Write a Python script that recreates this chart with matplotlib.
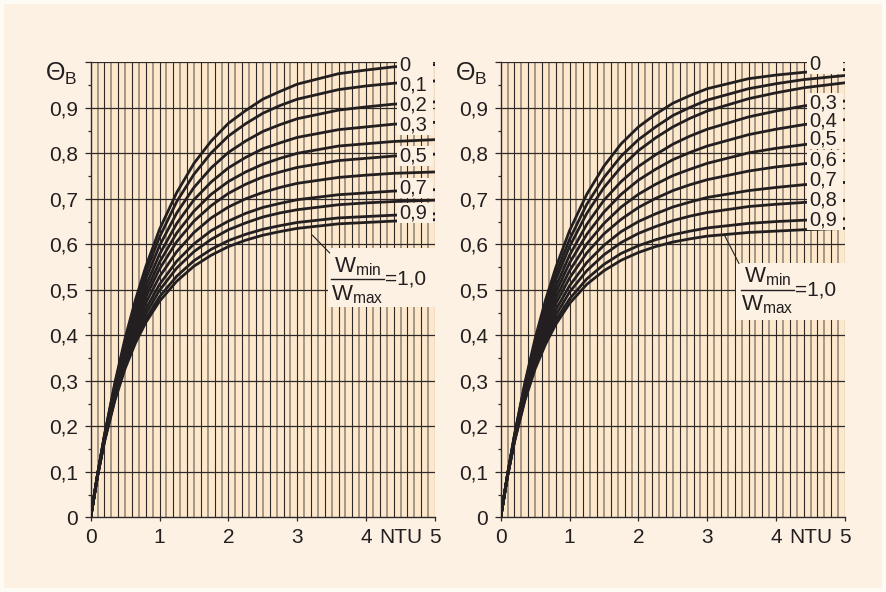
import matplotlib
matplotlib.use("Agg")  # render bez okna
import matplotlib.pyplot as plt
from matplotlib.patches import Rectangle

plt.rcParams["font.family"] = ["Liberation Sans", "DejaVu Sans"]
plt.rcParams["mathtext.fontset"] = "custom"
plt.rcParams["mathtext.rm"] = "Liberation Sans"
plt.rcParams["mathtext.it"] = "Liberation Sans:italic"
plt.rcParams["mathtext.bf"] = "Liberation Sans:bold"

# --- values ---
ntu = [0, 0.1, 0.2, 0.35, 0.5, 0.65, 0.8, 1.0, 1.25, 1.5, 1.75,
       2.0, 2.25, 2.5, 2.75, 3.0, 3.6, 4.0, 4.4, 5.0]

# one row per Wmin/Wmax = 0, 0.1, ... 1.0
theta_left = [
    [0, .095, .181, .295, .394, .478, .551, .633, .714, .778, .827, .866, .894, .919, .936, .952, .975, .983, .990, .995],
    [0, .095, .180, .291, .387, .468, .538, .616, .694, .754, .801, .838, .865, .888, .905, .919, .940, .948, .954, .959],
    [0, .094, .178, .287, .379, .457, .524, .597, .669, .725, .768, .802, .827, .848, .863, .876, .895, .902, .908, .913],
    [0, .094, .177, .283, .372, .446, .509, .578, .646, .698, .737, .768, .791, .810, .823, .835, .852, .858, .864, .868],
    [0, .093, .175, .279, .365, .436, .496, .561, .625, .673, .710, .738, .759, .776, .789, .800, .816, .821, .826, .830],
    [0, .093, .173, .275, .358, .427, .484, .546, .606, .651, .685, .712, .732, .748, .759, .769, .784, .789, .794, .798],
    [0, .093, .172, .271, .351, .417, .471, .529, .584, .626, .658, .682, .700, .714, .725, .734, .747, .752, .756, .759],
    [0, .092, .170, .267, .344, .407, .458, .512, .563, .601, .630, .651, .668, .681, .690, .698, .709, .713, .717, .720],
    [0, .092, .169, .263, .338, .399, .447, .499, .548, .584, .611, .632, .647, .660, .669, .676, .687, .691, .694, .697],
    [0, .091, .167, .260, .332, .390, .436, .485, .530, .564, .589, .608, .622, .633, .641, .648, .658, .661, .664, .667],
    [0, .091, .166, .256, .327, .383, .428, .475, .519, .552, .576, .595, .609, .620, .628, .635, .645, .648, .651, .654],
]

theta_right = [
    [0, .095, .181, .295, .393, .477, .549, .630, .710, .772, .821, .858, .886, .910, .927, .942, .964, .972, .978, .984],
    [0, .095, .180, .291, .385, .466, .535, .611, .688, .747, .794, .830, .858, .883, .901, .917, .942, .953, .962, .971],
    [0, .094, .178, .287, .379, .456, .522, .595, .668, .725, .770, .806, .834, .858, .877, .893, .920, .933, .944, .955],
    [0, .094, .176, .282, .371, .445, .507, .576, .644, .697, .738, .771, .797, .820, .838, .853, .880, .893, .904, .915],
    [0, .093, .175, .278, .364, .435, .494, .559, .622, .671, .710, .741, .765, .786, .802, .816, .841, .853, .863, .874],
    [0, .093, .173, .274, .357, .425, .481, .542, .601, .646, .682, .710, .732, .751, .765, .778, .801, .811, .819, .829],
    [0, .093, .172, .270, .350, .415, .469, .526, .581, .623, .655, .681, .701, .718, .731, .742, .761, .770, .777, .784],
    [0, .092, .170, .267, .343, .405, .456, .509, .560, .598, .628, .650, .667, .682, .693, .703, .718, .725, .731, .736],
    [0, .092, .169, .263, .337, .396, .444, .495, .542, .577, .604, .624, .639, .652, .662, .670, .683, .688, .692, .696],
    [0, .091, .167, .259, .331, .387, .433, .480, .524, .556, .580, .597, .610, .621, .629, .636, .646, .650, .653, .656],
    [0, .091, .166, .256, .326, .380, .424, .470, .512, .542, .565, .582, .595, .605, .612, .618, .626, .629, .632, .635],
]

left_labels = ["0", "0,1", "0,2", "0,3", "0,5", "0,7", "0,9"]
left_label_y = [0.994, 0.950, 0.906, 0.862, 0.793, 0.723, 0.668]
right_labels = ["0", "0,3", "0,4", "0,5", "0,6", "0,7", "0,8", "0,9"]
right_label_y = [0.996, 0.911, 0.871, 0.831, 0.785, 0.741, 0.697, 0.653]

yticks = [0, 0.1, 0.2, 0.3, 0.4, 0.5, 0.6, 0.7, 0.8, 0.9, 1.0]
ytick_labels = ["0", "0,1", "0,2", "0,3", "0,4", "0,5", "0,6", "0,7", "0,8", "0,9", ""]
xticks = [0, 1, 2, 3, 4, 4.5, 5]
xtick_labels = ["0", "1", "2", "3", "4", "NTU", "5"]

BG = "#fdf1e3"
PLOT_BG = "#fde8cc"
INK = "#231f20"
DARK = "#2e2929"
GRAY = "#8c8275"


def draw_panel(ax, theta, labels, label_y, bar_y, box, leader):
    ax.set_facecolor(PLOT_BG)
    ax.set_xlim(0, 5)
    ax.set_ylim(0, 1.0)

    # Gitter: 0.1 NTU vertikal, abwechselnd grau / dunkel
    for k in range(1, 51):
        dark = k % 2 == 0
        ax.axvline(k / 10, color=DARK if dark else GRAY,
                   lw=0.8 if dark else 1.1, zorder=1)
    for y in yticks[1:]:
        ax.axhline(y, color=DARK, lw=0.9, zorder=1)

    for row in theta:
        ax.plot(ntu, row, color=INK, lw=2.0, zorder=3, solid_joinstyle="round")

    # Beschriftungen rechts
    for lab, y in zip(labels, label_y):
        top = min(y + 0.022, 1.005)
        ax.add_patch(Rectangle((4.455, y - 0.022), 0.51, top - (y - 0.022),
                               fc=BG, ec="none", zorder=5, clip_on=False))
        ax.text(4.475, y, lab, fontsize=14.5, color=INK, ha="left", va="center", zorder=6)

    # Wmin/Wmax-Kasten
    x0, y0, y1 = box
    ax.add_patch(Rectangle((x0, y0), 5.0 - x0, y1 - y0, fc=BG, ec="none", zorder=5))
    ax.plot([3.49, 4.26], [bar_y, bar_y], color=INK, lw=1.0, zorder=6)
    ax.text(3.875, bar_y + 0.004, r"$\mathrm{W}_{\mathrm{min}}$", fontsize=16,
            color=INK, ha="center", va="bottom", zorder=6)
    ax.text(3.875, bar_y - 0.008, r"$\mathrm{W}_{\mathrm{max}}$", fontsize=16,
            color=INK, ha="center", va="top", zorder=6)
    ax.text(4.275, bar_y, "=1,0", fontsize=15, color=INK, ha="left", va="center", zorder=6)
    ax.plot(leader[0], leader[1], color=INK, lw=0.8, zorder=6)

    for s in ("top", "right"):
        ax.spines[s].set_visible(False)
    for s in ("left", "bottom"):
        ax.spines[s].set_color(DARK)
        ax.spines[s].set_linewidth(1.0)

    ax.set_yticks(yticks)
    ax.set_yticklabels(ytick_labels)
    ax.set_yticks([0.05 + 0.1 * i for i in range(10)], minor=True)
    ax.set_xticks(xticks)
    ax.set_xticklabels(xtick_labels)
    ax.xaxis.get_major_ticks()[5].tick1line.set_visible(False)
    ax.tick_params(axis="y", which="major", length=4, width=0.9, color=DARK,
                   pad=5, labelsize=15, labelcolor=INK)
    ax.tick_params(axis="y", which="minor", length=2.5, width=0.9, color=DARK)
    ax.tick_params(axis="x", which="major", length=3, width=0.9, color=DARK,
                   pad=5, labelsize=15, labelcolor=INK)

    ax.annotate(r"$\Theta_\mathrm{B}$", xy=(0, 0.974), xycoords="data",
                xytext=(-9.5, 0), textcoords="offset points",
                fontsize=18, color=INK, ha="right", va="center", annotation_clip=False)


fig = plt.figure(figsize=(8.86, 5.92), dpi=100, facecolor="#fefaf4")
fig.patches.append(Rectangle((4 / 886, 4 / 592), 878 / 886, 584 / 592,
                             transform=fig.transFigure, fc=BG, ec="none", zorder=-10))

ax1 = fig.add_axes([90.7 / 886, 74.7 / 592, 344.3 / 886, 455 / 592])
ax2 = fig.add_axes([500.7 / 886, 74.7 / 592, 344.3 / 886, 455 / 592])

draw_panel(ax1, theta_left, left_labels, left_label_y, 0.523,
           (3.44, 0.462, 0.592), ([3.22, 3.47], [0.620, 0.581]))
draw_panel(ax2, theta_right, right_labels, right_label_y, 0.500,
           (3.41, 0.434, 0.559), ([3.25, 3.46], [0.620, 0.558]))

fig.savefig("out.png", dpi=100, facecolor=fig.get_facecolor())
plt.close(fig)
